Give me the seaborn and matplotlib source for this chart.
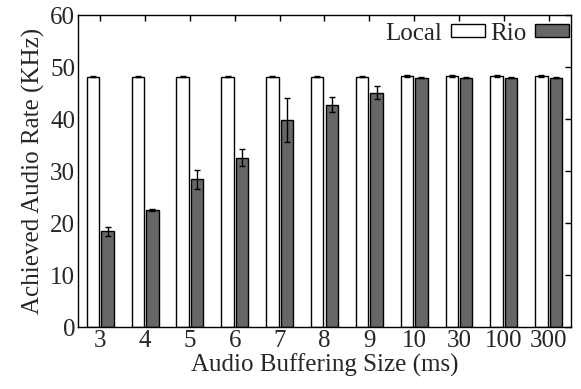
import matplotlib
matplotlib.use('Agg')
import matplotlib.pyplot as plt
import seaborn as sns
import pandas as pd

sizes = ['3', '4', '5', '6', '7', '8', '9', '10', '30', '100', '300']
local_rate = [48.2, 48.2, 48.2, 48.2, 48.2, 48.2, 48.2, 48.3, 48.3, 48.3, 48.3]
local_err = [0.1, 0.1, 0.1, 0.1, 0.1, 0.1, 0.1, 0.1, 0.1, 0.1, 0.1]
rio_rate = [18.4, 22.6, 28.4, 32.6, 39.8, 42.8, 45.1, 48.0, 48.0, 48.0, 48.0]
rio_err = [0.9, 0.2, 1.9, 1.7, 4.2, 1.5, 1.2, 0.1, 0.1, 0.1, 0.1]
systems = ['Local', 'Rio']

sns.set_theme(style='white')
plt.rcParams['font.family'] = ['Liberation Serif', 'DejaVu Serif']

df = pd.DataFrame({
    'size': sizes * 2,
    'rate': local_rate + rio_rate,
    'system': ['Local'] * len(sizes) + ['Rio'] * len(sizes),
})
errs = {'Local': local_err, 'Rio': rio_err}

fig = plt.figure(figsize=(5.81, 3.89), dpi=100)
ax = fig.add_axes([0.134, 0.159, 0.849, 0.802])

sns.barplot(data=df, x='size', y='rate', hue='system', order=sizes,
            hue_order=systems, palette={'Local': 'white', 'Rio': '#666666'},
            edgecolor='black', linewidth=1.0, width=0.65, gap=0.15,
            errorbar=None, ax=ax)

for cont, name in zip(ax.containers, systems):
    xs = [b.get_x() + b.get_width() / 2 for b in cont]
    ys = [b.get_height() for b in cont]
    ax.errorbar(xs, ys, yerr=errs[name], fmt='none', ecolor='black',
                elinewidth=1.0, capsize=2.3, capthick=1.0, zorder=5)

ax.set_xlim(-0.5, len(sizes) - 0.5)
ax.set_ylim(0, 60)
ax.set_yticks(range(0, 61, 10))
ax.set_xlabel('Audio Buffering Size (ms)', fontsize=18, labelpad=1)
ax.set_ylabel('Achieved Audio Rate (KHz)', fontsize=18, labelpad=4)
ax.tick_params(axis='both', direction='in', top=True, right=True, length=4,
               width=1, labelsize=18, color='black', pad=2)
for sp in ax.spines.values():
    sp.set_visible(True)
    sp.set_color('black')
    sp.set_linewidth(1.0)

ax.legend(loc='upper right', bbox_to_anchor=(1.0, 0.984),
          markerfirst=False, frameon=False, ncol=2,
          fontsize=18, handlelength=1.35, handleheight=0.45,
          columnspacing=0.2, handletextpad=0.35, borderaxespad=0.0,
          borderpad=0.1)

fig.savefig('out.png', dpi=100)
